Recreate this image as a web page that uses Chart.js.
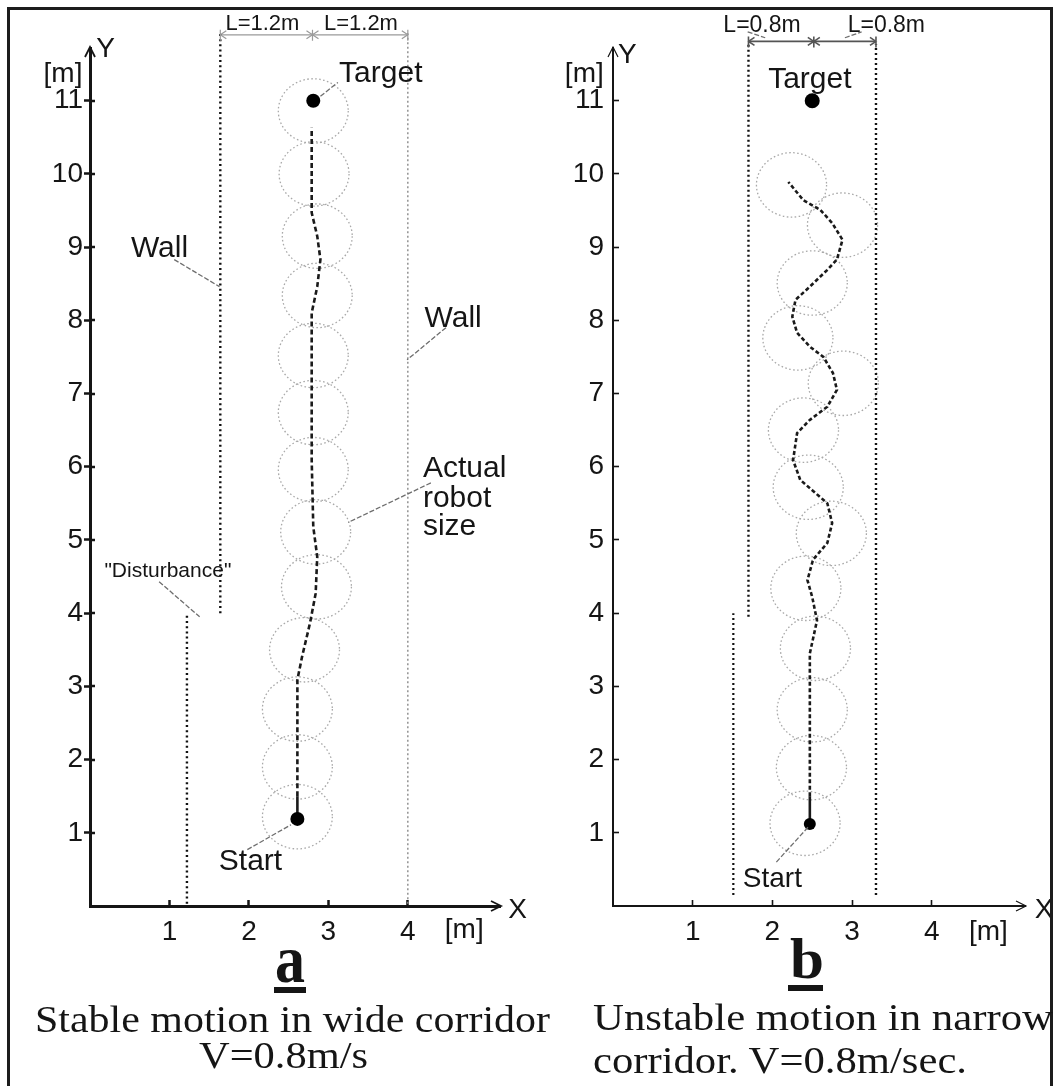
<!DOCTYPE html>
<html>
<head>
<meta charset="utf-8">
<script src="https://cdn.jsdelivr.net/npm/chart.js@4.4.1/dist/chart.umd.min.js"></script>
<style>
  html, body { margin: 0; padding: 0; background: #fff; }
  body { width: 1056px; height: 1086px; position: relative; overflow: hidden; }
  canvas { position: absolute; top: 0; }
  #cA { left: 0; }
  #cB { left: 528px; }
  #frame { position: absolute; left: 7px; top: 7px; width: 1046px; height: 1200px;
           border: 3px solid #1c1c1c; box-sizing: border-box; pointer-events: none; }
  .cap { position: absolute; font-family: "Liberation Serif", "Times New Roman", serif; color: #151515;
         white-space: nowrap; transform-origin: 0 0; line-height: 1; }
  .big { font-weight: bold; }
  .ul { position: absolute; background: #151515; }
</style>
</head>
<body>
<canvas id="cA" width="528" height="1086"></canvas>
<canvas id="cB" width="528" height="1086"></canvas>
<div id="frame"></div>

<div class="cap big" id="la" style="font-size:68px;">a</div>
<div class="ul" style="left:274px;top:987px;width:32px;height:6px;"></div>
<div class="cap" id="a1" style="font-size:37px;">Stable motion in wide corridor</div>
<div class="cap" id="a2" style="font-size:37px;">V=0.8m/s</div>

<div class="cap big" id="lb" style="font-size:57px;">b</div>
<div class="ul" style="left:788px;top:985px;width:35px;height:6px;"></div>
<div class="cap" id="b1" style="font-size:37px;">Unstable motion in narrow</div>
<div class="cap" id="b2" style="font-size:37px;">corridor. V=0.8m/sec.</div>

<script>
// ---------------- DATA ----------------
const xTickValues = [1, 2, 3, 4];
const yTickValues = [1, 2, 3, 4, 5, 6, 7, 8, 9, 10, 11];
const robotRadius = 0.44;   // actual robot size [m]

// Panel a: stable motion in wide corridor
const pathAX = [2.61, 2.61, 2.61, 2.67, 2.77, 2.84, 2.86, 2.81, 2.79, 2.79, 2.86, 2.90, 2.86, 2.79, 2.79];
const pathAY = [1.19, 1.50, 3.09, 3.41, 3.87, 4.27, 4.77, 5.18, 6.10, 8.10, 8.46, 8.83, 9.15, 9.47, 10.63];
const robotAX = [2.61, 2.61, 2.61, 2.70, 2.85, 2.84, 2.81, 2.81, 2.81, 2.86, 2.86, 2.82, 2.81];
const robotAY = [1.22, 1.90, 2.69, 3.50, 4.36, 5.11, 5.96, 6.74, 7.52, 8.34, 9.15, 10.00, 10.86];
const targetA = [2.81, 11.0];
const startA = [2.61, 1.19];
const wallALeftX = [1.64, 1.64], wallALeftY = [4.0, 11.94];
const wallARightX = [4.0, 4.0], wallARightY = [0.03, 11.94];
const disturbAX = [1.22, 1.22], disturbAY = [0.03, 4.0];
const dimAX = [1.64, 4.0], dimAY = [11.90, 11.90], dimACenter = 2.80;

// Panel b: unstable motion in narrow corridor
const pathBX = [2.47, 2.47, 2.47, 2.56, 2.50, 2.44, 2.51, 2.69, 2.75, 2.69, 2.50, 2.35, 2.26, 2.31, 2.47, 2.69,
                2.81, 2.76, 2.64, 2.47, 2.31, 2.25, 2.29, 2.47, 2.69, 2.81, 2.88, 2.75, 2.60, 2.39, 2.20];
const pathBY = [1.12, 1.50, 3.45, 3.90, 4.22, 4.45, 4.73, 4.96, 5.23, 5.50, 5.68, 5.82, 6.09, 6.46, 6.64, 6.82,
                7.05, 7.28, 7.50, 7.64, 7.83, 8.05, 8.28, 8.46, 8.69, 8.83, 9.10, 9.33, 9.51, 9.64, 9.89];
const robotBX = [2.41, 2.49, 2.50, 2.54, 2.42, 2.74, 2.45, 2.39, 2.89, 2.32, 2.50, 2.88, 2.24];
const robotBY = [1.13, 1.89, 2.68, 3.52, 4.34, 5.09, 5.72, 6.50, 7.14, 7.76, 8.51, 9.30, 9.85];
const targetB = [2.50, 11.0];
const startB = [2.47, 1.12];
const wallBLeftX = [1.70, 1.70], wallBLeftY = [3.95, 11.77];
const wallBRightX = [3.30, 3.30], wallBRightY = [0.15, 11.77];
const disturbBX = [1.51, 1.51], disturbBY = [0.15, 4.0];
const dimBX = [1.70, 3.30], dimBY = [11.81, 11.81], dimBCenter = 2.52;

// ---------------- LAYOUT / STYLE ----------------
const pts = (xs, ys) => xs.map((x, i) => ({ x, y: ys[i] }));
const SANS = '"Liberation Sans", Arial, Helvetica, sans-serif';
const INK = '#151515';

const panelA = {
  xMax: 5.16, yMax: 11.72, yAxisW: 90, padRight: 28,
  axisW: 3, tickW: 2.5, yTickLen: 6, yTickPad: 1, crossTicks: true,
  path: { xs: pathAX, ys: pathAY, width: 2.6, dash: [5, 3] },
  robots: { xs: robotAX, ys: robotAY },
  target: targetA, start: startA, dotR: 7, startR: 7,
  walls: [
    { xs: wallALeftX, ys: wallALeftY, color: '#111', width: 2.4, dash: [2, 3.2] },
    { xs: wallARightX, ys: wallARightY, color: '#8a8a8a', width: 1.4, dash: [2, 2.5] },
    { xs: disturbAX, ys: disturbAY, color: '#111', width: 2.4, dash: [2, 3.2] }
  ],
  dim: { xs: dimAX, ys: dimAY, center: dimACenter, color: '#9a9a9a', width: 1.2 },
  labels: [
    { t: 'L=1.2m', x: 2.17, y: 11.96, s: 22 },
    { t: 'L=1.2m', x: 3.41, y: 11.96, s: 22 },
    { t: '[m]', x: -0.34, y: 11.26, s: 28 },
    { t: 'Y', x: 0.195, y: 11.60, s: 28 },
    { t: 'Target', x: 3.66, y: 11.26, s: 30 },
    { t: 'Wall', x: 0.875, y: 8.86, s: 30 },
    { t: 'Wall', x: 4.57, y: 7.91, s: 30 },
    { t: 'Actual', x: 4.19, y: 5.86, s: 30, a: 'left' },
    { t: 'robot', x: 4.19, y: 5.45, s: 30, a: 'left' },
    { t: 'size', x: 4.19, y: 5.07, s: 30, a: 'left' },
    { t: '"Disturbance"', x: 0.98, y: 4.50, s: 21 },
    { t: 'Start', x: 2.02, y: 0.49, s: 30 },
    { t: '[m]', x: 4.71, y: -0.44, s: 28 },
    { t: 'X', x: 5.38, y: -0.16, s: 28 }
  ],
  leaders: [
    [2.90, 11.06, 3.12, 11.25],
    [1.06, 8.83, 1.63, 8.46],
    [4.48, 7.90, 3.99, 7.46],
    [4.29, 5.78, 3.25, 5.24],
    [0.87, 4.43, 1.38, 3.95],
    [1.98, 0.77, 2.53, 1.11]
  ]
};

const panelB = {
  xMax: 5.17, yMax: 11.72, yAxisW: 85, padRight: 31,
  axisW: 2, tickW: 1.6, yTickLen: -6, yTickPad: 15, crossTicks: false,
  path: { xs: pathBX, ys: pathBY, width: 2.6, dash: [4, 2.5] },
  robots: { xs: robotBX, ys: robotBY },
  target: targetB, start: startB, dotR: 7.5, startR: 6,
  walls: [
    { xs: wallBLeftX, ys: wallBLeftY, color: '#111', width: 2.4, dash: [2, 3] },
    { xs: wallBRightX, ys: wallBRightY, color: '#111', width: 2.4, dash: [2, 3] },
    { xs: disturbBX, ys: disturbBY, color: '#111', width: 2.2, dash: [2, 3] }
  ],
  dim: { xs: dimBX, ys: dimBY, center: dimBCenter, color: '#555', width: 1.6 },
  labels: [
    { t: 'L=0.8m', x: 1.87, y: 11.94, s: 23 },
    { t: 'L=0.8m', x: 3.43, y: 11.94, s: 23 },
    { t: '[m]', x: -0.36, y: 11.26, s: 28 },
    { t: 'Y', x: 0.18, y: 11.52, s: 28 },
    { t: 'Target', x: 2.47, y: 11.18, s: 30 },
    { t: 'Start', x: 2.0, y: 0.26, s: 28 },
    { t: '[m]', x: 4.71, y: -0.46, s: 28 },
    { t: 'X', x: 5.41, y: -0.16, s: 28 }
  ],
  leaders: [
    [2.05, 0.60, 2.45, 1.08],
    [1.69, 11.94, 1.91, 11.86],
    [2.91, 11.86, 3.12, 11.94]
  ]
};

// ---------------- PLUGIN ----------------
const decor = {
  id: 'decor',
  beforeDatasetsDraw(chart) {
    const xs = chart.scales.x, ys = chart.scales.y, ctx = chart.ctx;
    chart.data.datasets.forEach((ds, i) => {
      if (!ds.isRobot) return;
      const meta = chart.getDatasetMeta(i);
      const rx = Math.abs(xs.getPixelForValue(robotRadius) - xs.getPixelForValue(0));
      const ry = Math.abs(ys.getPixelForValue(robotRadius) - ys.getPixelForValue(0));
      ctx.save();
      ctx.strokeStyle = '#a9a9a9';
      ctx.lineWidth = 1.3;
      ctx.setLineDash([1.6, 2.4]);
      meta.data.forEach(p => {
        ctx.beginPath();
        ctx.ellipse(p.x, p.y, rx, ry, 0, 0, Math.PI * 2);
        ctx.stroke();
      });
      ctx.restore();
    });
  },
  afterDraw(chart, args, opts) {
    const P = opts.panel;
    const xs = chart.scales.x, ys = chart.scales.y, ctx = chart.ctx;
    const ca = chart.chartArea;
    const X = v => xs.getPixelForValue(v), Y = v => ys.getPixelForValue(v);
    ctx.save();
    // inner half of crossing y ticks
    if (P.crossTicks) {
      ctx.strokeStyle = INK;
      ctx.lineWidth = P.tickW;
      ctx.beginPath();
      ys.ticks.forEach(t => { const py = Math.round(Y(t.value)); ctx.moveTo(ca.left, py); ctx.lineTo(ca.left + 5, py); });
      ctx.stroke();
    }
    // axis arrow heads
    ctx.strokeStyle = INK;
    ctx.lineWidth = P.axisW * 0.6;
    ctx.beginPath();
    ctx.moveTo(ca.right - 9, ca.bottom - 5); ctx.lineTo(ca.right + 1, ca.bottom); ctx.lineTo(ca.right - 9, ca.bottom + 5);
    ctx.moveTo(ca.left - 5, ca.top + 9); ctx.lineTo(ca.left, ca.top - 1); ctx.lineTo(ca.left + 5, ca.top + 9);
    ctx.stroke();
    // dimension line marks
    const d = P.dim, yd = Y(d.ys[0]);
    ctx.strokeStyle = d.color;
    ctx.lineWidth = d.width;
    ctx.beginPath();
    [X(d.xs[0]), X(d.center), X(d.xs[1])].forEach(px => { ctx.moveTo(px, yd - 5); ctx.lineTo(px, yd + 6); });
    const xl = X(d.xs[0]), xr = X(d.xs[1]), xc = X(d.center);
    ctx.moveTo(xl + 6, yd - 4); ctx.lineTo(xl, yd); ctx.lineTo(xl + 6, yd + 4);
    ctx.moveTo(xr - 6, yd - 4); ctx.lineTo(xr, yd); ctx.lineTo(xr - 6, yd + 4);
    ctx.moveTo(xc - 6, yd - 4); ctx.lineTo(xc, yd); ctx.lineTo(xc - 6, yd + 4);
    ctx.moveTo(xc + 6, yd - 4); ctx.lineTo(xc, yd); ctx.lineTo(xc + 6, yd + 4);
    ctx.stroke();
    // leader lines
    ctx.strokeStyle = '#6e6e6e';
    ctx.lineWidth = 1.3;
    ctx.setLineDash([5, 2]);
    P.leaders.forEach(l => {
      ctx.beginPath(); ctx.moveTo(X(l[0]), Y(l[1])); ctx.lineTo(X(l[2]), Y(l[3])); ctx.stroke();
    });
    ctx.setLineDash([]);
    // text labels
    ctx.fillStyle = INK;
    ctx.textBaseline = 'alphabetic';
    P.labels.forEach(l => {
      ctx.font = `${l.s}px ${SANS}`;
      ctx.textAlign = l.a || 'center';
      ctx.fillText(l.t, X(l.x), Y(l.y));
    });
    ctx.restore();
  }
};

function buildChart(id, P) {
  const datasets = [];
  P.walls.forEach(w => datasets.push({
    data: pts(w.xs, w.ys), showLine: true, borderColor: w.color, borderWidth: w.width,
    borderDash: w.dash, pointRadius: 0, clip: false, order: 4
  }));
  datasets.push({
    data: pts(P.dim.xs, P.dim.ys), showLine: true, borderColor: P.dim.color, borderWidth: P.dim.width,
    pointRadius: 0, clip: false, order: 4
  });
  datasets.push({ data: pts(P.robots.xs, P.robots.ys), isRobot: true, pointRadius: 0, showLine: false, clip: false, order: 5 });
  datasets.push({
    data: pts(P.path.xs, P.path.ys), showLine: true, borderColor: '#1a1a1a', borderWidth: P.path.width,
    pointRadius: 0, clip: false, order: 2,
    segment: { borderDash: c => (c.p0DataIndex === 0 ? [] : P.path.dash) }
  });
  datasets.push({
    data: [{ x: P.target[0], y: P.target[1] }], pointRadius: P.dotR, pointBackgroundColor: '#000',
    pointBorderWidth: 0, clip: false, order: 1
  });
  datasets.push({
    data: [{ x: P.start[0], y: P.start[1] }], pointRadius: P.startR, pointBackgroundColor: '#000',
    pointBorderWidth: 0, clip: false, order: 1
  });

  return new Chart(document.getElementById(id), {
    type: 'scatter',
    data: { datasets },
    options: {
      animation: false, responsive: false, devicePixelRatio: 1, events: [],
      layout: { padding: { left: 0, top: 48, right: P.padRight, bottom: 140 } },
      plugins: { legend: { display: false }, tooltip: { enabled: false }, decor: { panel: P } },
      scales: {
        x: {
          type: 'linear', min: 0, max: P.xMax,
          afterBuildTicks: s => { s.ticks = xTickValues.map(v => ({ value: v })); },
          afterFit: s => { s.height = 40; },
          grid: { drawOnChartArea: false, drawTicks: true, tickLength: -6, tickWidth: P.tickW, tickColor: INK },
          border: { display: true, width: P.axisW, color: INK },
          ticks: { color: INK, font: { family: SANS, size: 28 }, padding: 15, autoSkip: false, maxRotation: 0 }
        },
        y: {
          type: 'linear', min: 0, max: P.yMax,
          afterBuildTicks: s => { s.ticks = yTickValues.map(v => ({ value: v })); },
          afterFit: s => { s.width = P.yAxisW; },
          grid: { drawOnChartArea: false, drawTicks: true, tickLength: P.yTickLen, tickWidth: P.tickW, tickColor: INK },
          border: { display: true, width: P.axisW, color: INK },
          ticks: { color: INK, font: { family: SANS, size: 28 }, padding: P.yTickPad, autoSkip: false }
        }
      }
    },
    plugins: [decor]
  });
}

buildChart('cA', panelA);
buildChart('cB', panelB);

// ---------------- CAPTIONS ----------------
function place(id, left, baseline, width) {
  const el = document.getElementById(id);
  const fs = parseFloat(el.style.fontSize);
  el.style.left = left + 'px';
  el.style.top = (baseline - 0.89 * fs + 0.05 * fs) + 'px';
  const w = el.getBoundingClientRect().width;
  el.style.transform = `scaleX(${width / w})`;
}
place('la', 275, 982, 30);
place('a1', 35, 1032, 515);
place('a2', 199, 1068, 169);
place('lb', 790, 978, 34);
place('b1', 593, 1030, 460);
place('b2', 593, 1073, 374);
</script>
</body>
</html>
